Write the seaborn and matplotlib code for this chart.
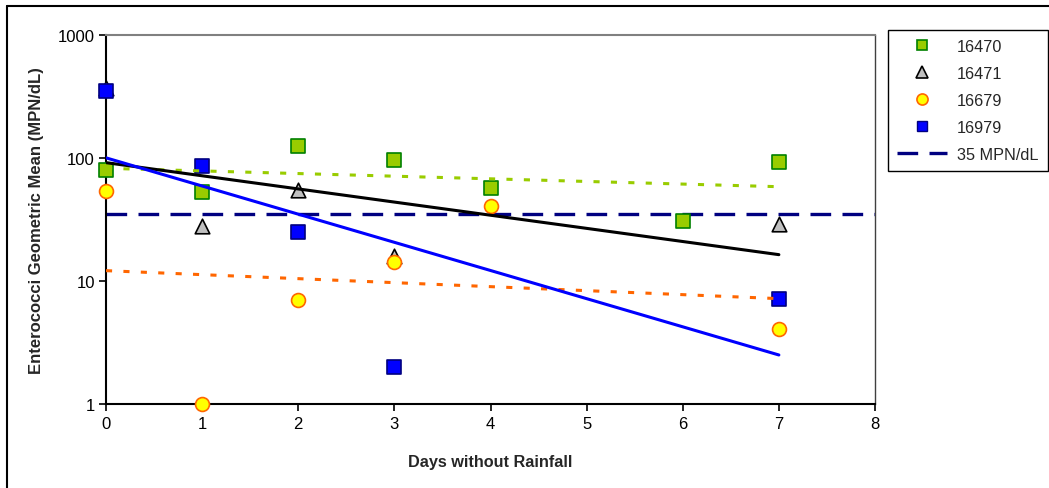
import numpy as np
import pandas as pd
import matplotlib
matplotlib.use("Agg")
import matplotlib.pyplot as plt
import seaborn as sns
from matplotlib.lines import Line2D

# ---- data ----
x_16470 = [0, 1, 2, 3, 4, 6, 7]
y_16470 = [80, 53, 125, 96, 57, 31, 93]
x_16471 = [0, 1, 2, 3, 7]
y_16471 = [370, 28, 55, 16, 29]
x_16679 = [0, 1, 2, 3, 4, 7]
y_16679 = [54, 1.0, 7.0, 14.3, 40.7, 4.07]
x_16979 = [0, 1, 2, 3, 7]
y_16979 = [351, 86, 25, 2.0, 7.1]
threshold = 35
x_ticks = [0, 1, 2, 3, 4, 5, 6, 7, 8]
y_ticks = [1, 10, 100, 1000]
y_tick_labels = ["1", "10", "100", "1000"]

sns.set_theme(style="white")
plt.rcParams["font.family"] = ["Liberation Sans", "DejaVu Sans"]

fig = plt.figure(figsize=(10.49, 4.89), dpi=100)
ax = fig.add_axes([106 / 1049, 1 - 405 / 489, (875 - 106) / 1049, (405 - 36) / 489])

dots = (0, (2, 3.7))
series = [
    ("16470", x_16470, y_16470, dict(marker="s", color="#99CC00", edgecolor="#008000", s=100), "#99CC00", dots),
    ("16471", x_16471, y_16471, dict(marker="^", color="#C0C0C0", edgecolor="#000000", s=110), "#000000", "-"),
    ("16679", x_16679, y_16679, dict(marker="o", color="#FFFF00", edgecolor="#FF6600", s=100), "#FF6600", dots),
    ("16979", x_16979, y_16979, dict(marker="s", color="#0000FF", edgecolor="#000080", s=100), "#0000FF", "-"),
]

# scatter points
for name, xs, ys, kw, _, _ in series:
    df = pd.DataFrame({"x": xs, "y": ys})
    sns.scatterplot(data=df, x="x", y="y", ax=ax, linewidth=1.2, zorder=3, legend=False,
                    clip_on=False, **kw)

# exponential trend lines (least-squares fit in log space)
for name, xs, ys, kw, lc, ls in series:
    xs_a = np.array(xs, dtype=float)
    b, a = np.polyfit(xs_a, np.log(np.array(ys, dtype=float)), 1)
    xt = np.linspace(min(xs_a), max(xs_a), 100)
    tdf = pd.DataFrame({"x": xt, "y": np.exp(a + b * xt)})
    sns.lineplot(data=tdf, x="x", y="y", ax=ax, color=lc, linestyle=ls, linewidth=2.2, zorder=4)

ax.axhline(threshold, color="#000080", linestyle=(0, (6.2, 3.4)), linewidth=2.4, zorder=2)

ax.set_yscale("log")
ax.set_xlim(0, 8)
ax.set_ylim(1, 1000)
ax.set_xticks(x_ticks)
ax.set_yticks(y_ticks)
ax.set_yticklabels(y_tick_labels)
ax.minorticks_off()
ax.yaxis.set_minor_locator(matplotlib.ticker.NullLocator())
ax.tick_params(axis="both", which="major", direction="out", length=5, width=1.2,
               color="black", labelsize=12, colors="#000000", left=True, bottom=True)
ax.tick_params(axis="x", pad=4)
ax.tick_params(axis="y", pad=3)

for side in ["left", "bottom"]:
    ax.spines[side].set_color("black")
    ax.spines[side].set_linewidth(1.5)
ax.spines["top"].set_color("#808080")
ax.spines["top"].set_linewidth(1.5)
ax.spines["right"].set_color("#404040")
ax.spines["right"].set_linewidth(1.0)
ax.grid(False)

ax.set_xlabel("Days without Rainfall", fontsize=11.7, fontweight="bold", labelpad=16)
ax.set_ylabel("Enterococci Geometric Mean (MPN/dL)", fontsize=12, fontweight="bold", labelpad=10)

# legend
handles = [
    Line2D([], [], linestyle="none", marker="s", markersize=7.5, markerfacecolor="#99CC00", markeredgecolor="#008000", markeredgewidth=1.2),
    Line2D([], [], linestyle="none", marker="^", markersize=8.5, markerfacecolor="#C0C0C0", markeredgecolor="#000000", markeredgewidth=1.2),
    Line2D([], [], linestyle="none", marker="o", markersize=8, markerfacecolor="#FFFF00", markeredgecolor="#FF6600", markeredgewidth=1.2),
    Line2D([], [], linestyle="none", marker="s", markersize=7.5, markerfacecolor="#0000FF", markeredgecolor="#000080", markeredgewidth=1.0),
    Line2D([], [], color="#000080", linestyle=(0, (6.2, 3.4)), linewidth=2.4),
]
labels = ["16470", "16471", "16679", "16979", "35 MPN/dL"]
leg = fig.legend(handles, labels, loc="upper left", bbox_to_anchor=(888 / 1049, 1 - 31 / 489),
                 bbox_transform=fig.transFigure, frameon=True, fancybox=False, framealpha=1,
                 edgecolor="black", fontsize=11.7, handlelength=3.1, handletextpad=0.6,
                 labelspacing=0.74, borderpad=0.55, borderaxespad=0)
leg.get_frame().set_linewidth(1.0)

# outer chart border (left and top)
fig.add_artist(Line2D([7 / 1049, 7 / 1049], [0, 1 - 7 / 489], color="black", linewidth=1.5, transform=fig.transFigure))
fig.add_artist(Line2D([7 / 1049, 1], [1 - 7 / 489, 1 - 7 / 489], color="black", linewidth=1.5, transform=fig.transFigure))

fig.savefig("out.png", dpi=100)
